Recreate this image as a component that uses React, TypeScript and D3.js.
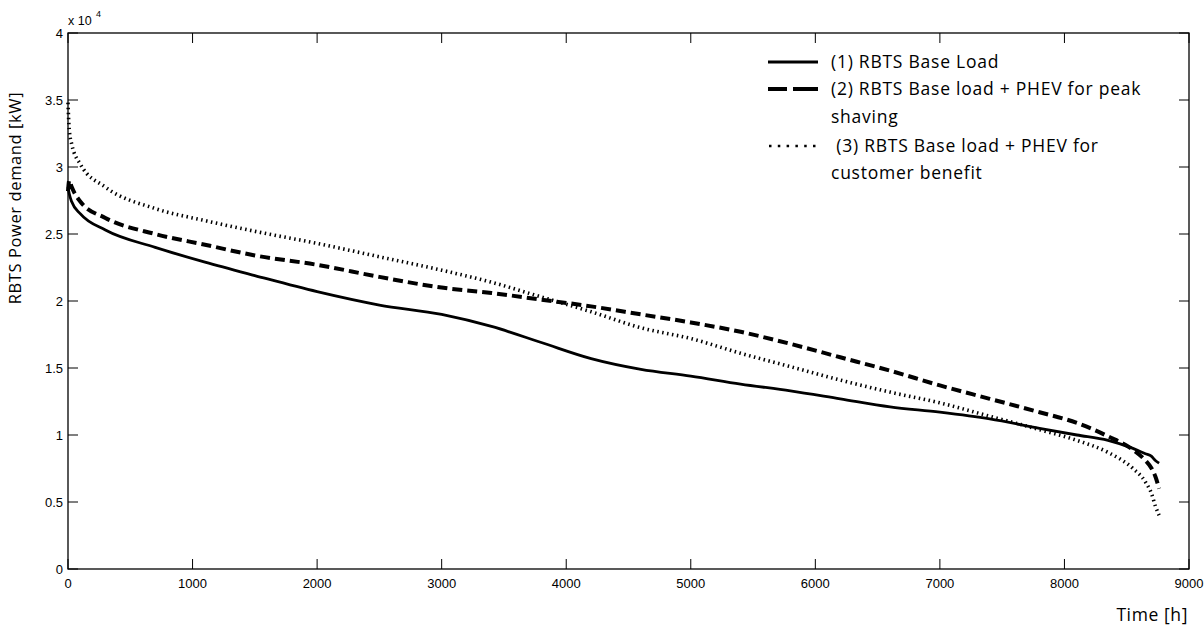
import React from "react";
import * as d3 from "d3";

const hours = [0, 10, 30, 100, 300, 700, 1100, 1500, 2000, 2500, 3000, 3400, 3800, 4200, 4600, 5000, 5400, 5800, 6200, 6600, 7000, 7400, 7800, 8100, 8350, 8550, 8650, 8700, 8730, 8760];

// values in units of 10^4 kW
const baseLoad = [2.85, 2.80, 2.74, 2.65, 2.53, 2.40, 2.29, 2.19, 2.07, 1.97, 1.90, 1.81, 1.69, 1.57, 1.49, 1.44, 1.38, 1.33, 1.27, 1.21, 1.17, 1.12, 1.05, 1.00, 0.96, 0.90, 0.86, 0.84, 0.81, 0.79];
const peakShaving = [2.82, 2.90, 2.85, 2.74, 2.62, 2.50, 2.42, 2.34, 2.27, 2.18, 2.10, 2.06, 2.01, 1.96, 1.90, 1.84, 1.77, 1.68, 1.58, 1.48, 1.37, 1.27, 1.17, 1.09, 0.99, 0.89, 0.81, 0.75, 0.69, 0.60];
const customerBenefit = [3.48, 3.28, 3.17, 3.02, 2.85, 2.69, 2.60, 2.52, 2.43, 2.33, 2.23, 2.14, 2.03, 1.92, 1.80, 1.72, 1.61, 1.51, 1.41, 1.32, 1.24, 1.14, 1.04, 0.96, 0.87, 0.75, 0.65, 0.56, 0.47, 0.40];

const xTicks = [0, 1000, 2000, 3000, 4000, 5000, 6000, 7000, 8000, 9000];
const yTicks = [0, 5000, 10000, 15000, 20000, 25000, 30000, 35000, 40000];

const legendLabels = [
  ["(1) RBTS Base Load"],
  ["(2) RBTS Base load + PHEV for peak", "shaving"],
  [" (3) RBTS Base load + PHEV for", "customer benefit"],
];

const W = 1204;
const H = 629;
const left = 68;
const right = 1189;
const top = 33;
const bottom = 569;

export default function App() {
  const x = d3.scaleLinear().domain([0, 9000]).range([left, right]);
  const y = d3.scaleLinear().domain([0, 40000]).range([bottom, top]);

  const mk = (vals: number[]) =>
    d3
      .line<number>()
      .x((_, i) => x(hours[i]))
      .y((v) => y(v * 10000))
      .curve(d3.curveMonotoneX)(vals) as string;

  const tickFont = "'Liberation Sans', Arial, sans-serif";
  const textFont = "'Open Sans', sans-serif";
  const tl = 10;

  const legX1 = 768;
  const legX2 = 818;
  const legText = 831;
  const rowY = [62, 89, 117, 146, 173];

  return (
    <svg
      width={W}
      height={H}
      style={{ position: "absolute", left: 0, top: 0, background: "#fff" }}
    >
      <rect x={0} y={0} width={W} height={H} fill="#fff" />
      {/* box */}
      <rect x={left} y={top} width={right - left} height={bottom - top} fill="none" stroke="#000" strokeWidth={1.3} />
      {/* x ticks */}
      {xTicks.map((t) => (
        <g key={"x" + t}>
          <line x1={x(t)} x2={x(t)} y1={bottom} y2={bottom - tl} stroke="#000" strokeWidth={1} />
          <line x1={x(t)} x2={x(t)} y1={top} y2={top + tl} stroke="#000" strokeWidth={1} />
          <text x={x(t)} y={588} textAnchor="middle" fontFamily={tickFont} fontSize={13} fill="#000">
            {t}
          </text>
        </g>
      ))}
      {/* y ticks */}
      {yTicks.map((t) => (
        <g key={"y" + t}>
          <line x1={left} x2={left + tl} y1={y(t)} y2={y(t)} stroke="#000" strokeWidth={1} />
          <line x1={right} x2={right - tl} y1={y(t)} y2={y(t)} stroke="#000" strokeWidth={1} />
          <text x={63} y={y(t) + 4.5} textAnchor="end" fontFamily={tickFont} fontSize={13} fill="#000">
            {d3.format("~g")(t / 10000)}
          </text>
        </g>
      ))}
      {/* exponent */}
      <text x={68} y={25} fontFamily={tickFont} fontSize={12.5} fill="#000">
        x 10
      </text>
      <text x={96} y={17} fontFamily={tickFont} fontSize={9} fill="#000">
        4
      </text>
      {/* series */}
      <path d={mk(baseLoad)} fill="none" stroke="#000" strokeWidth={2.8} />
      <path d={mk(peakShaving)} fill="none" stroke="#000" strokeWidth={4} strokeDasharray="10 5" />
      <path d={mk(customerBenefit)} fill="none" stroke="#000" strokeWidth={3.6} strokeDasharray="1.5 3.5" />
      {/* axis titles */}
      <text
        transform={`translate(21,198) rotate(-90)`}
        textAnchor="middle"
        fontFamily={textFont}
        fontSize={16.5}
        letterSpacing={0.6}
        fill="#000"
      >
        RBTS Power demand [kW]
      </text>
      <text x={1188} y={621} textAnchor="end" fontFamily={textFont} fontSize={17.5} letterSpacing={0.6} fill="#000">
        Time [h]
      </text>
      {/* legend */}
      <line x1={legX1} x2={legX2} y1={rowY[0]} y2={rowY[0]} stroke="#000" strokeWidth={3} />
      <line x1={legX1} x2={legX2} y1={rowY[1]} y2={rowY[1]} stroke="#000" strokeWidth={4} strokeDasharray="19 6 25" />
      <line x1={legX1 + 1} x2={legX2} y1={rowY[3]} y2={rowY[3]} stroke="#000" strokeWidth={2.5} strokeDasharray="2.5 6.3" />
      {[legendLabels[0][0], legendLabels[1][0], legendLabels[1][1], legendLabels[2][0], legendLabels[2][1]].map((s, i) => (
        <text
          key={"l" + i}
          x={legText}
          y={rowY[i] + 6}
          fontFamily={textFont}
          fontSize={17.5}
          letterSpacing={0.75}
          fill="#000"
          style={{ whiteSpace: "pre" }}
        >
          {s}
        </text>
      ))}
    </svg>
  );
}
